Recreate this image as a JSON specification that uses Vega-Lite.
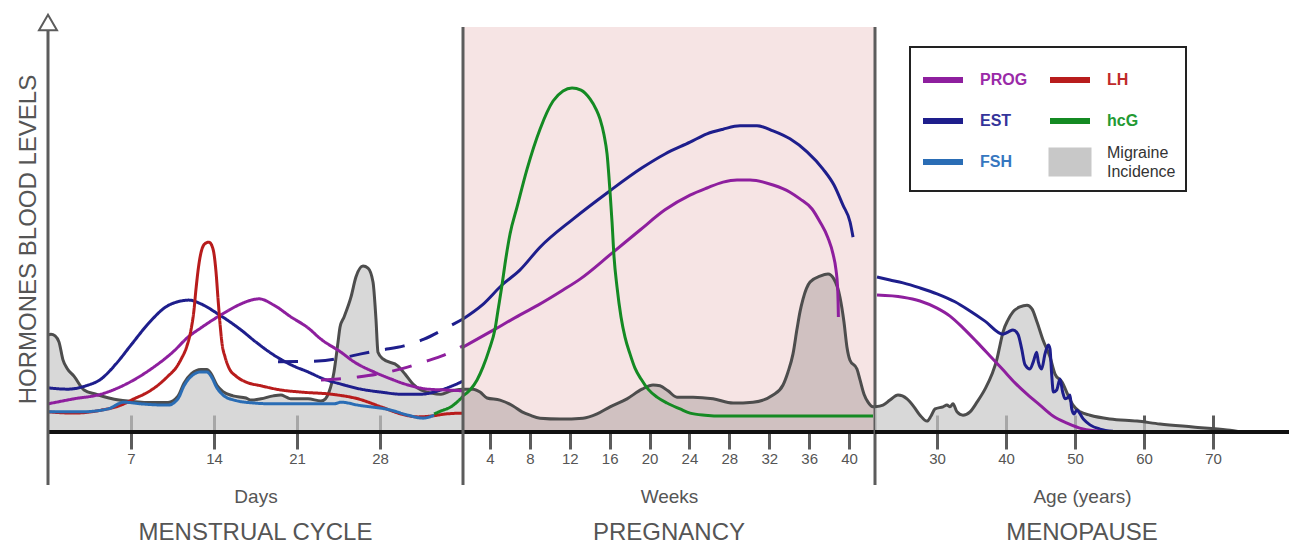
{
"$schema": "https://vega.github.io/schema/vega-lite/v6.json",
"padding": {"left": 16, "top": 10, "right": 5, "bottom": 5},
"background": "white",
"spacing": 0,
"bounds": "flush",
"config": {
  "view": {"stroke": null},
  "font": "Liberation Sans",
  "axisY": {"domain": false, "ticks": false, "labels": false, "grid": false},
  "axisX": {"domain": false, "grid": false, "offset": -17, "tickSize": 34, "tickWidth": 3, "tickColor": "#5c5c5c", "labelFontSize": 15, "labelColor": "#555555", "labelPadding": 2, "titleFontSize": 19, "titleFontWeight": "normal", "titleColor": "#555555", "titlePadding": 21, "zindex": 1},
  "title": {"orient": "bottom", "fontSize": 24, "fontWeight": "normal", "color": "#555555", "offset": 15},
  "line": {"strokeWidth": 3, "interpolate": "monotone"}
},
"resolve": {"scale": {"x": "independent", "y": "independent", "color": "independent", "strokeDash": "independent"}, "legend": {"color": "independent", "strokeDash": "independent"}},
"datasets": {
  "frame": [{"k": 1}],
  "mig1": [
    {"x":0,"y":23.1},{"x":0.25,"y":23.3},{"x":0.6,"y":22.9},{"x":0.93,"y":21.4},{"x":1.27,"y":17.1},{"x":1.6,"y":15.2},{"x":2.19,"y":13.3},{"x":3.04,"y":10.0},{"x":4.05,"y":9.0},{"x":5.14,"y":8.1},{"x":5.99,"y":7.6},{"x":7.0,"y":7.3},{"x":8.27,"y":7.0},{"x":10.12,"y":7.0},{"x":10.96,"y":8.5},{"x":11.47,"y":11.6},{"x":12.1,"y":13.9},{"x":12.9,"y":14.9},{"x":13.4,"y":14.9},{"x":13.75,"y":13.9},{"x":14.25,"y":11.1},{"x":14.76,"y":9.6},{"x":15.6,"y":8.6},{"x":16.7,"y":8.1},{"x":17.12,"y":7.6},{"x":17.96,"y":7.9},{"x":19.0,"y":8.6},{"x":19.65,"y":8.8},{"x":20.1,"y":8.3},{"x":20.49,"y":7.9},{"x":21.93,"y":7.9},{"x":23.02,"y":7.4},{"x":23.4,"y":7.9},{"x":23.7,"y":9.5},{"x":24.12,"y":14.3},{"x":24.46,"y":21.4},{"x":24.63,"y":25.0},{"x":24.97,"y":27.4},{"x":25.55,"y":32.1},{"x":25.97,"y":36.9},{"x":26.57,"y":39.5},{"x":26.99,"y":39.0},{"x":27.41,"y":35.7},{"x":27.66,"y":26.9},{"x":27.83,"y":19.0},{"x":28.25,"y":17.4},{"x":29.52,"y":15.7},{"x":30.11,"y":13.8},{"x":30.78,"y":11.4},{"x":31.46,"y":10.0},{"x":32.3,"y":9.3},{"x":33.14,"y":9.0},{"x":33.99,"y":9.8},{"x":35.0,"y":10.2}
  ],
  "l1": [
    {"s":"EST","p":"solid","x":0,"y":10.5},{"s":"EST","p":"solid","x":1.69,"y":10.2},{"s":"EST","p":"solid","x":3.2,"y":11.0},{"s":"EST","p":"solid","x":4.47,"y":12.6},{"s":"EST","p":"solid","x":5.73,"y":16.2},{"s":"EST","p":"solid","x":7.0,"y":20.7},{"s":"EST","p":"solid","x":8.43,"y":25.7},{"s":"EST","p":"solid","x":9.95,"y":29.8},{"s":"EST","p":"solid","x":11.22,"y":31.2},{"s":"EST","p":"solid","x":11.89,"y":31.4},{"s":"EST","p":"solid","x":12.9,"y":30.5},{"s":"EST","p":"solid","x":14.34,"y":28.1},{"s":"EST","p":"solid","x":16.28,"y":24.3},{"s":"EST","p":"solid","x":17.54,"y":21.4},{"s":"EST","p":"solid","x":19.06,"y":18.3},{"s":"EST","p":"solid","x":20.49,"y":16.0},{"s":"EST","p":"solid","x":21.93,"y":14.3},{"s":"EST","p":"solid","x":23.28,"y":12.6},{"s":"EST","p":"solid","x":24.71,"y":11.4},{"s":"EST","p":"solid","x":26.4,"y":10.2},{"s":"EST","p":"solid","x":28.08,"y":9.5},{"s":"EST","p":"solid","x":29.77,"y":9.0},{"s":"EST","p":"solid","x":31.46,"y":9.0},{"s":"EST","p":"solid","x":33.14,"y":10.0},{"s":"EST","p":"solid","x":35.0,"y":12.1},
    {"s":"EST","p":"dashed","x":19.4,"y":16.7},{"s":"EST","p":"dashed","x":22.77,"y":16.9},{"s":"EST","p":"dashed","x":24.71,"y":17.6},{"s":"EST","p":"dashed","x":26.4,"y":18.6},{"s":"EST","p":"dashed","x":28.08,"y":19.5},{"s":"EST","p":"dashed","x":30.02,"y":20.5},{"s":"EST","p":"dashed","x":31.71,"y":22.1},{"s":"EST","p":"dashed","x":33.4,"y":24.5},{"s":"EST","p":"dashed","x":35.0,"y":26.9},
    {"s":"PROG","p":"solid","x":0,"y":6.7},{"s":"PROG","p":"solid","x":2.19,"y":7.9},{"s":"PROG","p":"solid","x":4.47,"y":9.0},{"s":"PROG","p":"solid","x":6.58,"y":11.4},{"s":"PROG","p":"solid","x":8.69,"y":15.0},{"s":"PROG","p":"solid","x":10.63,"y":19.3},{"s":"PROG","p":"solid","x":11.81,"y":22.6},{"s":"PROG","p":"solid","x":12.9,"y":24.8},{"s":"PROG","p":"solid","x":14.59,"y":27.9},{"s":"PROG","p":"solid","x":16.28,"y":30.5},{"s":"PROG","p":"solid","x":17.12,"y":31.4},{"s":"PROG","p":"solid","x":17.8,"y":31.7},{"s":"PROG","p":"solid","x":19.06,"y":30.2},{"s":"PROG","p":"solid","x":20.49,"y":27.4},{"s":"PROG","p":"solid","x":21.93,"y":24.8},{"s":"PROG","p":"solid","x":23.02,"y":22.1},{"s":"PROG","p":"solid","x":24.71,"y":19.0},{"s":"PROG","p":"solid","x":25.81,"y":16.7},{"s":"PROG","p":"solid","x":27.49,"y":14.3},{"s":"PROG","p":"solid","x":28.68,"y":12.9},{"s":"PROG","p":"solid","x":30.36,"y":11.2},{"s":"PROG","p":"solid","x":32.05,"y":10.2},{"s":"PROG","p":"solid","x":33.57,"y":10.0},{"s":"PROG","p":"solid","x":35.0,"y":9.8},
    {"s":"PROG","p":"dashed","x":23.02,"y":12.4},{"s":"PROG","p":"dashed","x":24.46,"y":12.6},{"s":"PROG","p":"dashed","x":26.14,"y":13.1},{"s":"PROG","p":"dashed","x":27.83,"y":13.8},{"s":"PROG","p":"dashed","x":30.02,"y":15.2},{"s":"PROG","p":"dashed","x":31.71,"y":16.7},{"s":"PROG","p":"dashed","x":33.4,"y":18.3},{"s":"PROG","p":"dashed","x":35.0,"y":20.5},
    {"s":"LH","p":"solid","x":0,"y":4.8},{"s":"LH","p":"solid","x":2.19,"y":4.5},{"s":"LH","p":"solid","x":4.47,"y":5.2},{"s":"LH","p":"solid","x":6.16,"y":6.4},{"s":"LH","p":"solid","x":7.25,"y":7.9},{"s":"LH","p":"solid","x":8.3,"y":9.3},{"s":"LH","p":"solid","x":9.3,"y":11.2},{"s":"LH","p":"solid","x":10.12,"y":13.3},{"s":"LH","p":"solid","x":10.8,"y":15.3},{"s":"LH","p":"solid","x":11.22,"y":17.3},{"s":"LH","p":"solid","x":11.72,"y":20.5},{"s":"LH","p":"solid","x":12.06,"y":24.3},{"s":"LH","p":"solid","x":12.31,"y":29.0},{"s":"LH","p":"solid","x":12.48,"y":34.0},{"s":"LH","p":"solid","x":12.73,"y":40.0},{"s":"LH","p":"solid","x":12.99,"y":43.6},{"s":"LH","p":"solid","x":13.32,"y":45.0},{"s":"LH","p":"solid","x":13.58,"y":45.2},{"s":"LH","p":"solid","x":13.83,"y":44.3},{"s":"LH","p":"solid","x":14.0,"y":42.4},{"s":"LH","p":"solid","x":14.17,"y":38.1},{"s":"LH","p":"solid","x":14.34,"y":31.7},{"s":"LH","p":"solid","x":14.51,"y":25.7},{"s":"LH","p":"solid","x":14.68,"y":21.0},{"s":"LH","p":"solid","x":14.93,"y":17.9},{"s":"LH","p":"solid","x":15.27,"y":15.2},{"s":"LH","p":"solid","x":15.86,"y":13.3},{"s":"LH","p":"solid","x":16.7,"y":11.9},{"s":"LH","p":"solid","x":17.96,"y":11.0},{"s":"LH","p":"solid","x":19.65,"y":10.0},{"s":"LH","p":"solid","x":21.34,"y":9.5},{"s":"LH","p":"solid","x":23.87,"y":9.0},{"s":"LH","p":"solid","x":26.14,"y":7.9},{"s":"LH","p":"solid","x":28.08,"y":6.0},{"s":"LH","p":"solid","x":29.77,"y":4.3},{"s":"LH","p":"solid","x":31.2,"y":3.6},{"s":"LH","p":"solid","x":32.3,"y":3.8},{"s":"LH","p":"solid","x":33.57,"y":4.3},{"s":"LH","p":"solid","x":35.0,"y":4.5},
    {"s":"FSH","p":"solid","x":0,"y":4.8},{"s":"FSH","p":"solid","x":2.78,"y":4.8},{"s":"FSH","p":"solid","x":5.06,"y":5.5},{"s":"FSH","p":"solid","x":6.41,"y":7.1},{"s":"FSH","p":"solid","x":7.84,"y":6.7},{"s":"FSH","p":"solid","x":10.12,"y":6.4},{"s":"FSH","p":"solid","x":10.96,"y":7.9},{"s":"FSH","p":"solid","x":11.47,"y":11.0},{"s":"FSH","p":"solid","x":12.1,"y":13.3},{"s":"FSH","p":"solid","x":12.9,"y":14.3},{"s":"FSH","p":"solid","x":13.4,"y":14.3},{"s":"FSH","p":"solid","x":13.75,"y":13.3},{"s":"FSH","p":"solid","x":14.25,"y":10.5},{"s":"FSH","p":"solid","x":14.76,"y":8.8},{"s":"FSH","p":"solid","x":15.69,"y":7.6},{"s":"FSH","p":"solid","x":17.37,"y":6.9},{"s":"FSH","p":"solid","x":19.06,"y":6.7},{"s":"FSH","p":"solid","x":21.93,"y":6.7},{"s":"FSH","p":"solid","x":24.12,"y":6.7},{"s":"FSH","p":"solid","x":24.71,"y":7.1},{"s":"FSH","p":"solid","x":26.14,"y":6.4},{"s":"FSH","p":"solid","x":28.93,"y":5.2},{"s":"FSH","p":"solid","x":30.36,"y":4.0},{"s":"FSH","p":"solid","x":31.63,"y":3.3},{"s":"FSH","p":"solid","x":32.56,"y":4.0},
    {"s":"hcG","p":"solid","x":32.56,"y":4.3},{"s":"hcG","p":"solid","x":33.14,"y":5.0},{"s":"hcG","p":"solid","x":33.99,"y":6.0},{"s":"hcG","p":"solid","x":35.0,"y":8.5}
  ],
  "mig2": [
    {"x":1.3,"y":10.2},{"x":2.31,"y":10.2},{"x":3.01,"y":9.5},{"x":3.71,"y":8.1},{"x":5.01,"y":7.6},{"x":6.32,"y":6.2},{"x":7.22,"y":4.8},{"x":8.02,"y":4.0},{"x":9.02,"y":3.3},{"x":11.03,"y":3.1},{"x":13.33,"y":3.3},{"x":14.74,"y":4.3},{"x":16.04,"y":6.0},{"x":17.74,"y":7.9},{"x":19.25,"y":10.2},{"x":20.35,"y":11.2},{"x":21.05,"y":11.0},{"x":21.85,"y":9.8},{"x":22.75,"y":8.3},{"x":24.36,"y":8.3},{"x":26.36,"y":7.9},{"x":28.37,"y":6.9},{"x":30.37,"y":7.1},{"x":32.38,"y":8.8},{"x":33.38,"y":11.2},{"x":33.88,"y":14.3},{"x":34.38,"y":18.6},{"x":34.78,"y":24.5},{"x":35.08,"y":28.6},{"x":35.39,"y":31.7},{"x":36.09,"y":35.7},{"x":37.09,"y":37.1},{"x":37.89,"y":37.6},{"x":38.49,"y":36.4},{"x":39.09,"y":32.1},{"x":39.49,"y":26.2},{"x":39.79,"y":20.2},{"x":40.09,"y":17.1},{"x":40.79,"y":15.0},{"x":41.1,"y":12.4},{"x":41.5,"y":9.0},{"x":41.9,"y":7.1},{"x":42.4,"y":6.0},{"x":42.6,"y":6.0}
  ],
  "l2": [
    {"s":"EST","x":1.3,"y":26.9},{"s":"EST","x":3.21,"y":30.2},{"s":"EST","x":5.21,"y":35.0},{"s":"EST","x":7.02,"y":38.6},{"s":"EST","x":9.02,"y":44.0},{"s":"EST","x":12.33,"y":50.7},{"s":"EST","x":15.84,"y":57.1},{"s":"EST","x":19.25,"y":62.9},{"s":"EST","x":21.55,"y":66.2},{"s":"EST","x":24.06,"y":69.0},{"s":"EST","x":25.76,"y":71.0},{"s":"EST","x":27.37,"y":72.1},{"s":"EST","x":29.07,"y":72.9},{"s":"EST","x":30.77,"y":72.9},{"s":"EST","x":32.38,"y":71.7},{"s":"EST","x":34.08,"y":69.8},{"s":"EST","x":35.79,"y":66.7},{"s":"EST","x":37.39,"y":62.6},{"s":"EST","x":38.49,"y":58.8},{"s":"EST","x":39.39,"y":54.0},{"s":"EST","x":40.1,"y":50.0},{"s":"EST","x":40.4,"y":46.4},
    {"s":"PROG","x":1.3,"y":20.2},{"s":"PROG","x":4.51,"y":24.5},{"s":"PROG","x":7.02,"y":27.9},{"s":"PROG","x":8.82,"y":30.2},{"s":"PROG","x":11.33,"y":33.8},{"s":"PROG","x":13.03,"y":36.4},{"s":"PROG","x":16.24,"y":42.6},{"s":"PROG","x":19.05,"y":48.1},{"s":"PROG","x":21.55,"y":52.9},{"s":"PROG","x":24.06,"y":56.4},{"s":"PROG","x":25.76,"y":58.1},{"s":"PROG","x":27.37,"y":59.5},{"s":"PROG","x":28.77,"y":60.0},{"s":"PROG","x":30.07,"y":60.0},{"s":"PROG","x":32.38,"y":58.8},{"s":"PROG","x":34.08,"y":57.1},{"s":"PROG","x":35.08,"y":55.5},{"s":"PROG","x":36.29,"y":53.1},{"s":"PROG","x":37.09,"y":50.0},{"s":"PROG","x":37.89,"y":46.2},{"s":"PROG","x":38.39,"y":42.4},{"s":"PROG","x":38.69,"y":38.6},{"s":"PROG","x":38.85,"y":34.5},{"s":"PROG","x":38.9,"y":31.0},{"s":"PROG","x":38.93,"y":27.4},
    {"s":"hcG","x":1.3,"y":8.6},{"s":"hcG","x":2.0,"y":10.0},{"s":"hcG","x":2.71,"y":12.4},{"s":"hcG","x":3.31,"y":15.5},{"s":"hcG","x":3.91,"y":19.5},{"s":"hcG","x":4.51,"y":24.5},{"s":"hcG","x":4.81,"y":29.0},{"s":"hcG","x":5.21,"y":35.0},{"s":"hcG","x":5.51,"y":40.0},{"s":"hcG","x":6.01,"y":47.1},{"s":"hcG","x":6.72,"y":53.6},{"s":"hcG","x":7.72,"y":62.6},{"s":"hcG","x":9.02,"y":72.1},{"s":"hcG","x":10.33,"y":78.8},{"s":"hcG","x":11.33,"y":81.2},{"s":"hcG","x":12.23,"y":81.9},{"s":"hcG","x":13.13,"y":81.4},{"s":"hcG","x":14.03,"y":79.3},{"s":"hcG","x":14.63,"y":76.9},{"s":"hcG","x":15.04,"y":74.5},{"s":"hcG","x":15.44,"y":70.7},{"s":"hcG","x":15.74,"y":66.2},{"s":"hcG","x":16.04,"y":57.1},{"s":"hcG","x":16.24,"y":50.0},{"s":"hcG","x":16.44,"y":41.7},{"s":"hcG","x":16.74,"y":34.5},{"s":"hcG","x":17.14,"y":27.4},{"s":"hcG","x":17.54,"y":22.6},{"s":"hcG","x":18.04,"y":18.6},{"s":"hcG","x":18.54,"y":15.2},{"s":"hcG","x":19.15,"y":12.6},{"s":"hcG","x":19.85,"y":10.2},{"s":"hcG","x":20.75,"y":8.3},{"s":"hcG","x":21.75,"y":6.9},{"s":"hcG","x":23.06,"y":5.5},{"s":"hcG","x":24.06,"y":4.5},{"s":"hcG","x":25.56,"y":4.0},{"s":"hcG","x":27.37,"y":3.8},{"s":"hcG","x":30.07,"y":3.8},{"s":"hcG","x":42.4,"y":3.8}
  ],
  "mig3": [
    {"x":21.0,"y":6.0},{"x":22.16,"y":6.4},{"x":23.17,"y":7.6},{"x":24.33,"y":8.8},{"x":25.64,"y":7.9},{"x":26.65,"y":6.0},{"x":27.52,"y":4.0},{"x":28.54,"y":2.6},{"x":29.12,"y":3.8},{"x":29.7,"y":5.5},{"x":30.86,"y":6.0},{"x":31.43,"y":6.4},{"x":31.87,"y":6.0},{"x":32.3,"y":6.7},{"x":32.88,"y":4.8},{"x":33.75,"y":4.0},{"x":34.77,"y":4.8},{"x":35.78,"y":7.1},{"x":36.94,"y":10.2},{"x":37.96,"y":13.8},{"x":38.68,"y":17.4},{"x":39.12,"y":20.7},{"x":39.55,"y":23.8},{"x":40.28,"y":26.7},{"x":41.0,"y":28.6},{"x":42.01,"y":29.8},{"x":43.03,"y":30.2},{"x":43.75,"y":29.3},{"x":44.48,"y":26.2},{"x":45.35,"y":21.9},{"x":46.36,"y":17.9},{"x":47.09,"y":13.8},{"x":48.1,"y":11.9},{"x":48.97,"y":8.8},{"x":49.7,"y":6.4},{"x":50.72,"y":4.8},{"x":52.17,"y":4.0},{"x":55.06,"y":3.1},{"x":58.97,"y":2.6},{"x":62.3,"y":1.9},{"x":67.09,"y":1.2},{"x":72.01,"y":0.5},{"x":74.33,"y":0}
  ],
  "l3": [
    {"s":"EST","x":21.29,"y":36.9},{"s":"EST","x":23.17,"y":36.2},{"s":"EST","x":25.06,"y":35.5},{"s":"EST","x":27.52,"y":34.3},{"s":"EST","x":29.99,"y":32.9},{"s":"EST","x":32.59,"y":31.0},{"s":"EST","x":34.77,"y":28.8},{"s":"EST","x":36.94,"y":26.4},{"s":"EST","x":39.55,"y":23.3},{"s":"EST","x":40.28,"y":23.8},{"s":"EST","x":41.0,"y":24.3},{"s":"EST","x":41.72,"y":23.3},{"s":"EST","x":42.26,"y":19.8},{"s":"EST","x":42.74,"y":16.0},{"s":"EST","x":43.46,"y":15.0},{"s":"EST","x":43.94,"y":16.7},{"s":"EST","x":44.43,"y":19.0},{"s":"EST","x":44.67,"y":16.7},{"s":"EST","x":45.15,"y":15.0},{"s":"EST","x":45.64,"y":18.6},{"s":"EST","x":46.12,"y":20.7},{"s":"EST","x":46.36,"y":19.8},{"s":"EST","x":46.61,"y":13.6},{"s":"EST","x":46.85,"y":9.5},{"s":"EST","x":47.33,"y":10.0},{"s":"EST","x":47.81,"y":12.6},{"s":"EST","x":48.2,"y":9.5},{"s":"EST","x":48.54,"y":7.9},{"s":"EST","x":49.01,"y":8.3},{"s":"EST","x":49.26,"y":8.8},{"s":"EST","x":49.51,"y":5.5},{"s":"EST","x":49.84,"y":4.3},{"s":"EST","x":50.23,"y":5.2},{"s":"EST","x":51.19,"y":3.1},{"s":"EST","x":52.16,"y":1.7},{"s":"EST","x":53.61,"y":0.7},{"s":"EST","x":55.49,"y":0.2},
    {"s":"PROG","x":21.29,"y":32.6},{"s":"PROG","x":25.06,"y":32.1},{"s":"PROG","x":27.52,"y":31.2},{"s":"PROG","x":29.99,"y":29.5},{"s":"PROG","x":31.87,"y":27.6},{"s":"PROG","x":33.75,"y":24.8},{"s":"PROG","x":35.78,"y":21.4},{"s":"PROG","x":37.67,"y":18.1},{"s":"PROG","x":39.55,"y":14.8},{"s":"PROG","x":41.29,"y":11.7},{"s":"PROG","x":43.03,"y":9.0},{"s":"PROG","x":44.91,"y":6.4},{"s":"PROG","x":46.8,"y":3.8},{"s":"PROG","x":48.83,"y":2.1},{"s":"PROG","x":51.14,"y":0.7},{"s":"PROG","x":53.61,"y":0.2}
  ]
},
"hconcat": [
  {
    "width": 415, "height": 420,
    "title": {"text": "MENSTRUAL CYCLE", "orient": "bottom"},
    "layer": [
      {"data": {"name": "mig1"}, "mark": {"type": "area", "fill": "#c8c8c8", "interpolate": "monotone", "line": {"color": "#4d4d4d", "strokeWidth": 3}},
       "encoding": {
         "x": {"field": "x", "type": "quantitative", "scale": {"domain": [0, 35], "nice": false, "zero": false}, "axis": {"values": [7, 14, 21, 28], "title": "Days"}},
         "y": {"field": "y", "type": "quantitative", "scale": {"domain": [0, 100], "nice": false}, "axis": {"title": "HORMONES BLOOD LEVELS", "titleX": -8, "titleY": 227, "titleFontSize": 24, "titleFontWeight": "normal", "titleColor": "#555555"}}
       }},
      {"data": {"name": "l1"}, "mark": {"type": "line"},
       "encoding": {
         "x": {"field": "x", "type": "quantitative"},
         "y": {"field": "y", "type": "quantitative"},
         "color": {"field": "s", "type": "nominal", "scale": {"domain": ["PROG","EST","FSH","LH","hcG","Migraine Incidence"], "range": ["#8e1f9e","#1e1e8c","#2a6db5","#b81c1c","#148a23","#c8c8c8"]}, "legend": null},
         "strokeDash": {"field": "p", "type": "nominal", "scale": {"domain": ["solid","dashed"], "range": [[1,0],[20,16]]}, "legend": null}
       }},
      {"data": {"name": "frame"}, "mark": {"type": "rule", "color": "#111111", "strokeWidth": 4},
       "encoding": {"x": {"datum": 0, "type": "quantitative"}, "x2": {"datum": 35}, "y": {"datum": 0, "type": "quantitative"}}},
      {"data": {"name": "frame"}, "mark": {"type": "rule", "color": "#5c5c5c", "strokeWidth": 3},
       "encoding": {"x": {"datum": 0, "type": "quantitative"}, "y": {"datum": -12.6, "type": "quantitative"}, "y2": {"datum": 96.2}}},
      {"data": {"name": "frame"}, "mark": {"type": "point", "shape": "triangle-up", "size": 324, "filled": true, "fill": "white", "stroke": "#5c5c5c", "strokeWidth": 2, "opacity": 1},
       "encoding": {"x": {"datum": 0, "type": "quantitative"}, "y": {"datum": 97.5, "type": "quantitative"}}}
    ]
  },
  {
    "width": 412, "height": 420,
    "title": {"text": "PREGNANCY", "orient": "bottom"},
    "layer": [
      {"data": {"name": "frame"}, "mark": {"type": "rect", "color": "#f6e4e4"},
       "encoding": {
         "x": {"datum": 1.3, "type": "quantitative", "scale": {"domain": [1.3, 42.6], "nice": false, "zero": false}, "axis": {"values": [4, 8, 12, 16, 20, 24, 28, 32, 36, 40], "title": "Weeks"}},
         "x2": {"datum": 42.6},
         "y": {"datum": 0, "type": "quantitative", "scale": {"domain": [0, 100], "nice": false}, "axis": null},
         "y2": {"datum": 96.4}
       }},
      {"data": {"name": "mig2"}, "mark": {"type": "area", "fill": "#c0b2b2", "interpolate": "monotone", "line": {"color": "#4d4d4d", "strokeWidth": 3}},
       "encoding": {"x": {"field": "x", "type": "quantitative"}, "y": {"field": "y", "type": "quantitative"}}},
      {"data": {"name": "l2"}, "mark": {"type": "line"},
       "encoding": {
         "x": {"field": "x", "type": "quantitative"},
         "y": {"field": "y", "type": "quantitative"},
         "color": {"field": "s", "type": "nominal", "scale": {"domain": ["PROG","EST","FSH","LH","hcG","Migraine Incidence"], "range": ["#8e1f9e","#1e1e8c","#2a6db5","#b81c1c","#148a23","#c8c8c8"]}, "legend": null}
       }},
      {"data": {"name": "frame"}, "mark": {"type": "rule", "color": "#111111", "strokeWidth": 4},
       "encoding": {"x": {"datum": 1.3, "type": "quantitative"}, "x2": {"datum": 42.6}, "y": {"datum": 0, "type": "quantitative"}}},
      {"data": {"name": "frame"}, "mark": {"type": "rule", "color": "#5c5c5c", "strokeWidth": 3},
       "encoding": {"x": {"datum": 1.3, "type": "quantitative"}, "y": {"datum": -12.6, "type": "quantitative"}, "y2": {"datum": 96.4}}},
      {"data": {"name": "frame"}, "mark": {"type": "rule", "color": "#5c5c5c", "strokeWidth": 3},
       "encoding": {"x": {"datum": 42.6, "type": "quantitative"}, "y": {"datum": -12.6, "type": "quantitative"}, "y2": {"datum": 96.4}}}
    ]
  },
  {
    "width": 414, "height": 420,
    "title": {"text": "MENOPAUSE", "orient": "bottom"},
    "layer": [
      {"data": {"name": "mig3"}, "mark": {"type": "area", "fill": "#c8c8c8", "interpolate": "monotone", "line": {"color": "#4d4d4d", "strokeWidth": 3}},
       "encoding": {
         "x": {"field": "x", "type": "quantitative", "scale": {"domain": [21, 81], "nice": false, "zero": false}, "axis": {"values": [30, 40, 50, 60, 70], "title": "Age (years)"}},
         "y": {"field": "y", "type": "quantitative", "scale": {"domain": [0, 100], "nice": false}, "axis": null}
       }},
      {"data": {"name": "l3"}, "mark": {"type": "line"},
       "encoding": {
         "x": {"field": "x", "type": "quantitative"},
         "y": {"field": "y", "type": "quantitative"},
         "color": {"field": "s", "type": "nominal", "scale": {"domain": ["PROG","EST","FSH","LH","hcG","Migraine Incidence"], "range": ["#8e1f9e","#1e1e8c","#2a6db5","#b81c1c","#148a23","#c8c8c8"]},
           "legend": {
             "orient": "none", "legendX": 35, "legendY": 35, "title": null,
             "columns": 2, "columnPadding": 10, "rowPadding": 6, "padding": 10,
             "strokeColor": "#222222", "fillColor": "white",
             "symbolType": "stroke", "symbolSize": 1600, "symbolStrokeWidth": 6,
             "labelFontSize": 16, "labelOffset": 14, "labelFontWeight": "bold", "labelLimit": 200, "labelFont": "Liberation Sans",
             "labelExpr": "datum.label === 'Migraine Incidence' ? ['Migraine', 'Incidence'] : datum.label",
             "encoding": {
               "legend": {"strokeWidth": {"value": 2}},
               "symbols": {
                 "shape": {"value": {"expr": "(datum.value === 'Migraine Incidence' ? 'M-1,-0.65H1V0.65H-1Z' : 'stroke')"}},
                 "size": {"value": 1600},
                 "fill": {"value": {"expr": "(datum.value === 'Migraine Incidence' ? '#c8c8c8' : 'transparent')"}},
                 "stroke": {"value": {"expr": "(datum.value === 'PROG' ? '#8e1f9e' : datum.value === 'LH' ? '#b81c1c' : datum.value === 'EST' ? '#1e1e8c' : datum.value === 'hcG' ? '#148a23' : datum.value === 'FSH' ? '#2a6db5' : '#333333')"}},
                 "strokeWidth": {"value": {"expr": "(datum.value === 'Migraine Incidence' ? 3 : 6)"}},
                 "opacity": {"value": 1},
                 "strokeOpacity": {"value": 1},
                 "fillOpacity": {"value": 1}
               },
               "labels": {
                 "fill": {"value": {"expr": "(datum.value === 'PROG' ? '#9a2aa8' : datum.value === 'LH' ? '#c02a2a' : datum.value === 'EST' ? '#34349a' : datum.value === 'hcG' ? '#239a33' : datum.value === 'FSH' ? '#3677c0' : '#333333')"}},
                 "fontWeight": {"value": {"expr": "(datum.value === 'Migraine Incidence' ? 'normal' : 'bold')"}},
                 "lineHeight": {"value": 19},
                 "dy": {"value": {"expr": "(datum.value === 'Migraine Incidence' ? -9 : 0)"}}
               }
             }
           }}
       }},
      {"data": {"name": "frame"}, "mark": {"type": "rule", "color": "#111111", "strokeWidth": 4},
       "encoding": {"x": {"datum": 21, "type": "quantitative"}, "x2": {"datum": 81}, "y": {"datum": 0, "type": "quantitative"}}}
    ]
  }
]
}
